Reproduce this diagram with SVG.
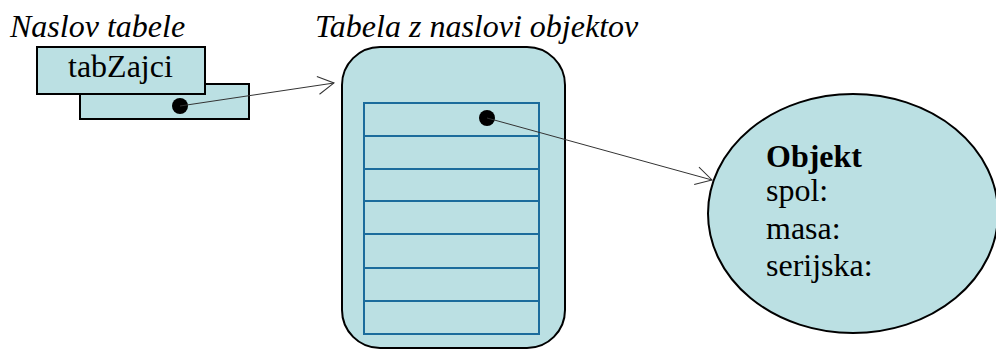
<svg xmlns="http://www.w3.org/2000/svg" width="996" height="349" viewBox="0 0 996 349">
<style>
text{font-family:'Liberation Serif','Times New Roman','DejaVu Serif',serif;font-size:32px;fill:#000}
.i{font-style:italic}
.b{font-weight:bold}
.box{fill:#bbe0e3;stroke:#000;stroke-width:2}
.row{fill:none;stroke:#1b6c9c;stroke-width:2}
.con{fill:none;stroke:#333;stroke-width:1}
</style>
<defs>
<marker id="open" markerWidth="20" markerHeight="20" refX="18" refY="10" orient="auto" markerUnits="userSpaceOnUse">
<path d="M2,1 L18,10 L2,19" fill="none" stroke="#333" stroke-width="1"/>
</marker>
</defs>
<text class="i" x="10" y="37" font-family="Liberation Serif, serif">Naslov tabele</text>
<text class="i" x="315" y="37" font-family="Liberation Serif, serif">Tabela z naslovi objektov</text>
<g id="naslov">
<rect class="box" x="80" y="84" width="169" height="35"/>
<rect class="box" x="37" y="47" width="168" height="47"/>
<text x="68" y="77" font-family="Liberation Serif, serif">tabZajci</text>
<circle cx="180" cy="106" r="8" fill="#000"/>
</g>
<g id="tabela">
<rect class="box" x="342" y="47" width="223" height="301" rx="38" ry="38"/>
<rect class="row" x="364" y="103" width="175" height="231"/>
<path class="row" d="M364,136H539M364,169H539M364,201H539M364,234H539M364,268H539M364,301H539"/>
<circle cx="487" cy="118" r="8" fill="#000"/>
</g>
<g id="objekt">
<ellipse class="box" cx="853" cy="213.5" rx="145" ry="119.5"/>
<text class="b" x="766" y="167" font-family="Liberation Serif, serif">Objekt</text>
<text x="766" y="201" font-family="Liberation Serif, serif">spol:</text>
<text x="766" y="239" font-family="Liberation Serif, serif">masa:</text>
<text x="766" y="276" font-family="Liberation Serif, serif">serijska:</text>
</g>
<g id="connectors">
<line class="con" x1="180" y1="106" x2="334" y2="83" marker-end="url(#open)"/>
<line class="con" x1="487" y1="118" x2="712" y2="180" marker-end="url(#open)"/>
</g>
</svg>
